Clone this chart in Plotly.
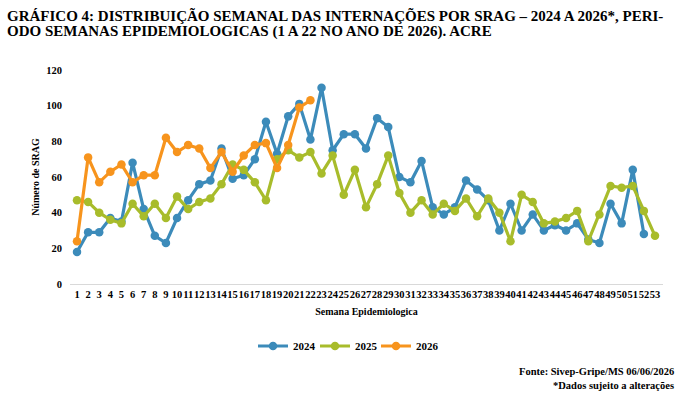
import plotly.graph_objects as go

weeks_2024 = list(range(1, 53))
vals_2024 = [18, 29, 29, 37, 35, 68, 42, 27, 23, 37, 47, 56, 58, 76, 59, 61, 70, 91, 73, 94,
             101, 81, 110, 75, 84, 84, 76, 93, 88, 60, 57, 69, 43, 39, 43, 58, 53, 47, 30, 45,
             30, 39, 30, 33, 30, 34, 25, 23, 45, 34, 64, 28]
weeks_2025 = list(range(1, 54))
vals_2025 = [47, 46, 40, 36, 34, 45, 38, 45, 37, 49, 42, 46, 48, 56, 67, 64, 57, 47, 70, 75,
             71, 74, 62, 72, 50, 64, 43, 56, 72, 51, 40, 47, 39, 45, 41, 48, 38, 48, 40, 24,
             50, 46, 34, 35, 37, 41, 24, 39, 55, 54, 55, 41, 27]
weeks_2026 = list(range(1, 23))
vals_2026 = [24, 71, 57, 63, 67, 57, 61, 61, 82, 74, 78, 76, 65, 74, 63, 72, 78, 79, 65, 78,
             99, 103]
tick_vals = list(range(1, 54))
tick_text = [str(v) for v in tick_vals]

series = [("2024", weeks_2024, vals_2024, "#3C8BBA"),
          ("2025", weeks_2025, vals_2025, "#A8BC2B"),
          ("2026", weeks_2026, vals_2026, "#F7941D")]

FONT = "Liberation Serif"
L, T, PW, PH = 70, 70, 593, 214


def px_to_paper(xp, yp):
    return (xp - L) / PW, (T + PH - yp) / PH


fig = go.Figure()
legend_ids = ["legend", "legend2", "legend3"]
for (name, x, y, c), lid in zip(series, legend_ids):
    fig.add_trace(go.Scatter(x=x, y=y, name=name, mode="lines+markers",
                             line=dict(color=c, width=3.2),
                             marker=dict(color=c, size=8.5), legend=lid))

tx1, ty1 = px_to_paper(5, 15)
tx2, ty2 = px_to_paper(5, 31)
fx, fy = px_to_paper(676, 371)
fx2, fy2 = px_to_paper(676, 385)

legend_layout = {}
for lid, xp in zip(legend_ids, [253, 315, 376]):
    lx, ly = px_to_paper(xp, 346)
    legend_layout[lid] = dict(orientation="h", x=lx, xanchor="left", y=ly, yanchor="middle",
                              font=dict(family=FONT, size=11, color="black", weight="bold"),
                              itemwidth=30, bgcolor="rgba(0,0,0,0)")

fig.update_layout(
    width=691, height=400,
    margin=dict(l=L, r=691 - L - PW, t=T, b=400 - T - PH),
    plot_bgcolor="white", paper_bgcolor="white",
    font=dict(family=FONT, color="black"),
    showlegend=True,
    **legend_layout,
    xaxis=dict(range=[0.37, 53.72], tickmode="array", tickvals=tick_vals, ticktext=tick_text,
               tickangle=0, showgrid=False, zeroline=False, showline=True, linecolor="#D9D9D9",
               linewidth=1, ticks="", tickfont=dict(family=FONT, size=10.5, color="black", weight="bold"),
               title=dict(text="Semana Epidemiologica", standoff=9,
                          font=dict(family=FONT, size=10, color="black", weight="bold"))),
    yaxis=dict(range=[0, 120], tickvals=[0, 20, 40, 60, 80, 100, 120], showgrid=False,
               zeroline=False, showline=False, ticks="", ticklabelstandoff=7,
               tickfont=dict(family=FONT, size=10.5, color="black", weight="bold"),
               title=dict(text="Número de SRAG", standoff=4,
                          font=dict(family=FONT, size=10, color="black", weight="bold"))),
    annotations=[
        dict(text="GRÁFICO 4: DISTRIBUIÇÃO SEMANAL DAS INTERNAÇÕES POR SRAG – 2024 A 2026*, PERI-",
             xref="paper", yref="paper", x=tx1, y=ty1, xanchor="left", yanchor="middle",
             showarrow=False, font=dict(family=FONT, size=15, color="black", weight="bold")),
        dict(text="ODO SEMANAS EPIDEMIOLOGICAS (1 A 22 NO ANO DE 2026). ACRE",
             xref="paper", yref="paper", x=tx2, y=ty2, xanchor="left", yanchor="middle",
             showarrow=False, font=dict(family=FONT, size=15, color="black", weight="bold")),
        dict(text="Fonte: Sivep-Gripe/MS 06/06/2026",
             xref="paper", yref="paper", x=fx, y=fy, xanchor="right", yanchor="middle",
             showarrow=False, font=dict(family=FONT, size=10.5, color="black", weight="bold")),
        dict(text="*Dados sujeito a alterações",
             xref="paper", yref="paper", x=fx2, y=fy2, xanchor="right", yanchor="middle",
             showarrow=False, font=dict(family=FONT, size=10.5, color="black", weight="bold")),
    ],
)
fig.write_html("out.html")
